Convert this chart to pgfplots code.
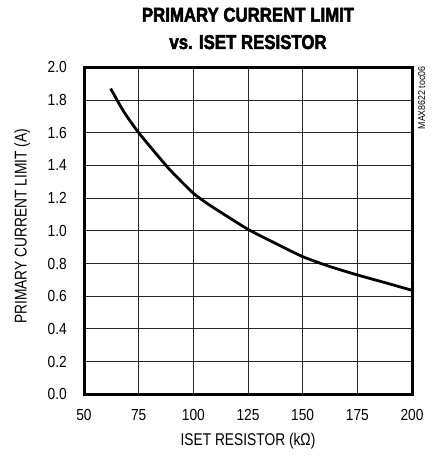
\documentclass[border=0pt]{standalone}
\usepackage{fontspec}
\setmainfont{Liberation Sans}
\newfontfamily\tickfont[FakeStretch=0.86]{Liberation Sans}
\newfontfamily\labfont[FakeStretch=0.81]{Liberation Sans}
\newfontfamily\titfont[FakeStretch=0.84,FakeBold=2.5]{Liberation Sans}
\newfontfamily\smallfont[FakeStretch=0.88]{Liberation Sans}
\usepackage{pgfplots}
\pgfplotsset{compat=1.18}
\begin{document}
\begin{tikzpicture}[x=1pt,y=1pt]
\useasboundingbox (0,0) rectangle (433,457);
\begin{axis}[
  at={(84pt,62.7pt)}, anchor=south west,
  scale only axis, width=328pt, height=327pt,
  xmin=50, xmax=200, ymin=0, ymax=2.0,
  xtick={50,75,...,200},
  ytick={0,0.2,...,2.01},
  grid=major,
  major grid style={line width=0.8pt, black!85},
  axis line style={line width=3pt, black},
  major tick length=0pt,
  /pgf/number format/assume math mode=true,
  ticklabel style={font=\tickfont\fontsize{16}{16}\selectfont, inner sep=0pt},
  yticklabel style={/pgf/number format/fixed, /pgf/number format/fixed zerofill, /pgf/number format/precision=1, xshift=-17pt},
  xticklabel style={anchor=north, yshift=-15pt},
]
\addplot[black, line width=2.8pt, smooth, tension=0.4] coordinates {
(62.2,1.87) (68,1.733) (75,1.60) (87.5,1.40) (94,1.308) (100,1.230) (106,1.170) (112,1.118)
(125,1.009) (137.9,0.921) (150,0.842) (162.3,0.782) (175,0.73) (187.4,0.684) (200,0.636)
};
\end{axis}
\node[anchor=base, font=\titfont\bfseries\fontsize{20}{20}\selectfont] at (248,435.3) {PRIMARY CURRENT LIMIT};
\node[anchor=base, font=\titfont\bfseries\fontsize{20}{20}\selectfont] at (248,408) {vs. ISET RESISTOR};
\node[anchor=base, font=\labfont\fontsize{17}{17}\selectfont] at (248,12) {ISET RESISTOR (kΩ)};
\node[anchor=base, rotate=90, font=\labfont\fontsize{17}{17}\selectfont] at (26.7,230.5) {PRIMARY CURRENT LIMIT (A)};
\node[anchor=base, rotate=90, font=\smallfont\fontsize{10}{10}\selectfont] at (425,359) {MAX8622 toc06};
\end{tikzpicture}
\end{document}
